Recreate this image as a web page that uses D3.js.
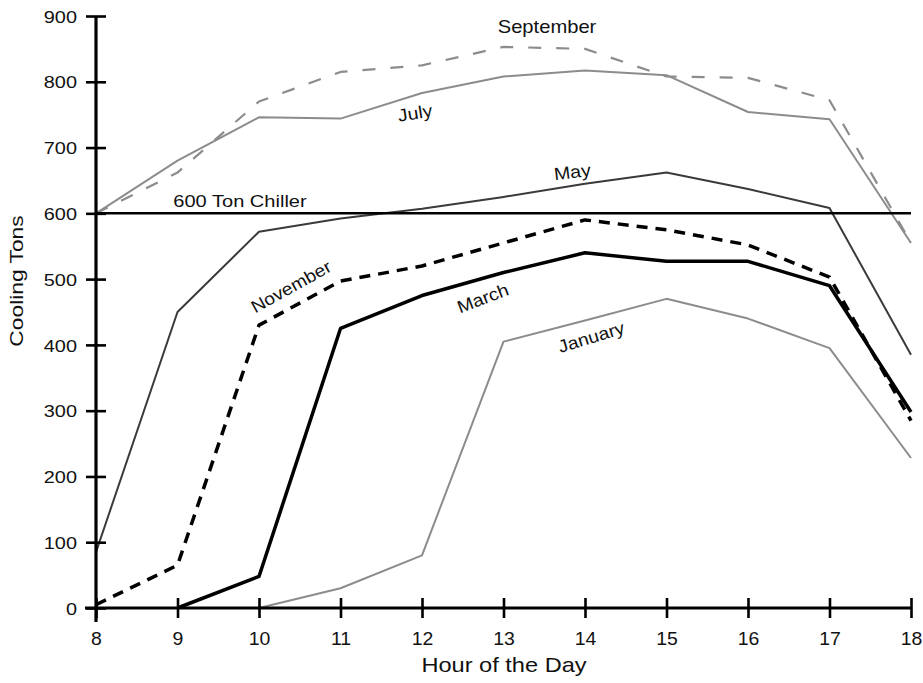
<!DOCTYPE html>
<html>
<head>
<meta charset="utf-8">
<script src="https://cdn.jsdelivr.net/npm/d3@7"></script>
<style>
  html, body { margin: 0; padding: 0; background: #fff; }
  svg { display: block; }
  text { font-family: "Liberation Sans", Arial, sans-serif; fill: #111; }
</style>
</head>
<body>
<svg id="chart" width="923" height="683"></svg>
<script>
// ---- data ----
const hours = [8, 9, 10, 11, 12, 13, 14, 15, 16, 17, 18];
const january   = [null, null, 0, 30, 80, 405, 437, 470, 440, 395, 228];
const march     = [null, 0, 48, 425, 475, 510, 540, 527, 527, 490, 298];
const november  = [5, 65, 430, 497, 520, 555, 590, 575, 552, 503, 285];
const may       = [85, 450, 572, 592, 607, 625, 645, 662, 637, 608, 385];
const july      = [600, 680, 746, 744, 783, 808, 817, 810, 754, 743, 555];
const september = [600, 662, 770, 815, 825, 853, 850, 808, 806, 772, 555];
const chillerCapacity = 600;
const yTickValues = [0, 100, 200, 300, 400, 500, 600, 700, 800, 900];
const xTickValues = hours;

// ---- layout ----
const svg = d3.select("#chart");
const x = d3.scaleLinear().domain([8, 18]).range([96, 911]);
const y = d3.scaleLinear().domain([0, 900]).range([608, 16]);
const SX = 1.17; // horizontal stretch of the reference's wide typeface

function label(px, py, txt, size, anchor, rot, sx) {
  const g = svg.append("g")
    .attr("transform", `translate(${px},${py}) rotate(${rot || 0}) scale(${sx || SX},1)`);
  g.append("text").attr("text-anchor", anchor || "middle")
    .attr("font-size", size).text(txt);
  return g;
}

// ---- series ----
const series = [
  { name: "July",      vals: july,      color: "#8c8c8c", width: 2,   dash: null },
  { name: "September", vals: september, color: "#8c8c8c", width: 2.2, dash: "13,15" },
  { name: "May",       vals: may,       color: "#3a3a3a", width: 2,   dash: null },
  { name: "January",   vals: january,   color: "#8c8c8c", width: 2,   dash: null },
  { name: "November",  vals: november,  color: "#000",    width: 3.5, dash: "11,8" },
  { name: "March",     vals: march,     color: "#000",    width: 3.5, dash: null }
];

const line = d3.line()
  .defined(d => d.v !== null)
  .x(d => x(d.h))
  .y(d => y(d.v));

series.forEach(s => {
  const pts = hours.map((h, i) => ({ h: h, v: s.vals[i] }));
  svg.append("path")
    .datum(pts)
    .attr("d", line)
    .attr("fill", "none")
    .attr("stroke", s.color)
    .attr("stroke-width", s.width)
    .attr("stroke-linejoin", "round")
    .attr("stroke-dasharray", s.dash);
});

// chiller capacity line
svg.append("line")
  .attr("x1", x(8)).attr("x2", x(18))
  .attr("y1", y(chillerCapacity)).attr("y2", y(chillerCapacity))
  .attr("stroke", "#000").attr("stroke-width", 2.5);

// ---- axes ----
const yAxis = svg.append("g")
  .attr("transform", `translate(${x(8)},0)`)
  .call(d3.axisLeft(y).tickValues(yTickValues).tickSizeOuter(0).tickSizeInner(10).tickFormat(d3.format("d")));
yAxis.select(".domain").attr("stroke", "#000").attr("stroke-width", 3.2)
  .attr("d", `M0,${y(900)}V${y(0) + 14}`);
yAxis.selectAll(".tick line").attr("x1", 10).attr("x2", -10).attr("stroke", "#000").attr("stroke-width", 2.6);
yAxis.selectAll(".tick text")
  .attr("x", 0).attr("dy", "0.36em")
  .attr("font-size", 17).attr("fill", "#111")
  .attr("font-family", "Liberation Sans, Arial, sans-serif")
  .attr("transform", `translate(-19,0) scale(${SX},1)`);

const xAxis = svg.append("g")
  .attr("transform", `translate(0,${y(0)})`)
  .call(d3.axisBottom(x).tickValues(xTickValues).tickSizeOuter(0).tickSizeInner(10).tickFormat(d3.format("d")));
xAxis.select(".domain").attr("stroke", "#000").attr("stroke-width", 3.2)
  .attr("d", `M${x(8) - 11},0H${x(18)}`);
xAxis.selectAll(".tick line").attr("y1", -10).attr("y2", 10).attr("stroke", "#000").attr("stroke-width", 2.6);
xAxis.selectAll(".tick text")
  .attr("y", 0).attr("dy", 0)
  .attr("font-size", 18).attr("fill", "#111")
  .attr("font-family", "Liberation Sans, Arial, sans-serif")
  .attr("transform", `translate(0,37) scale(1.08,1)`);

// axis titles
label(504, 672, "Hour of the Day", 20, "middle", 0, 1.18);
label(23, 281, "Cooling Tons", 19, "middle", -90, 1.2);

// series labels
label(547, 33, "September", 18, "middle", 0, 1.12);
label(416, 119, "July", 17.5, "middle", -9, 1.12);
label(573, 178, "May", 17.5, "middle", -7, 1.12);
label(240, 207, "600 Ton Chiller", 17, "middle", 0, 1.18);
label(294, 292, "November", 17.5, "middle", -29, 1.1);
label(485, 304, "March", 17.5, "middle", -21, 1.1);
label(593, 343, "January", 17.5, "middle", -17, 1.1);
</script>
</body>
</html>
